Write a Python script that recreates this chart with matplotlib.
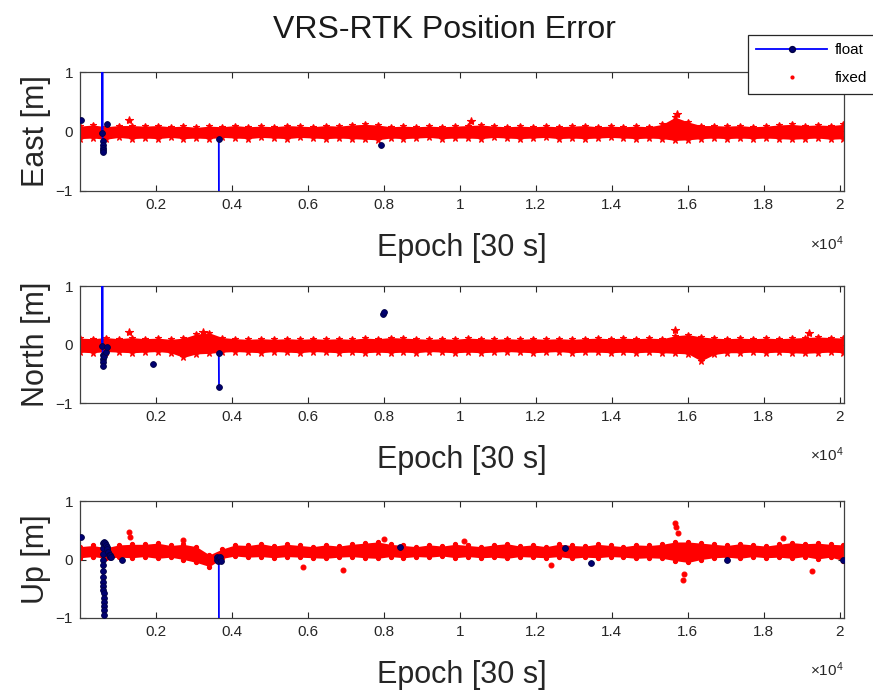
import numpy as np
import matplotlib
matplotlib.use('Agg')
import matplotlib.pyplot as plt
from matplotlib.lines import Line2D

plt.rcParams['font.family'] = ['Liberation Sans', 'DejaVu Sans']
plt.rcParams['mathtext.fontset'] = 'custom'
plt.rcParams['mathtext.rm'] = 'Liberation Sans'

last_epoch = 20100
nan = np.nan

# fixed solution: upper / lower edge of the red band, 60 bins over the whole record
east_hi = [0.09, 0.11, 0.08, 0.10, 0.10, 0.09, 0.10, 0.08, 0.09, 0.07,
           0.09, 0.08, 0.10, 0.08, 0.09, 0.08, 0.10, 0.09, 0.08, 0.10,
           0.09, 0.11, 0.12, 0.11, 0.08, 0.09, 0.08, 0.09, 0.08, 0.09,
           0.10, 0.11, 0.09, 0.08, 0.09, 0.08, 0.09, 0.08, 0.09, 0.10,
           0.08, 0.09, 0.08, 0.09, 0.08, 0.12, 0.24, 0.16, 0.10, 0.10,
           0.09, 0.10, 0.08, 0.09, 0.11, 0.12, 0.10, 0.11, 0.10, 0.12]
east_lo = [-0.12, -0.11, -0.13, -0.10, -0.12, -0.11, -0.12, -0.10, -0.12, -0.11,
           -0.12, -0.10, -0.11, -0.12, -0.10, -0.11, -0.12, -0.10, -0.11, -0.12,
           -0.11, -0.12, -0.13, -0.14, -0.11, -0.12, -0.11, -0.10, -0.12, -0.11,
           -0.11, -0.12, -0.10, -0.11, -0.12, -0.11, -0.10, -0.12, -0.11, -0.12,
           -0.11, -0.10, -0.11, -0.12, -0.11, -0.12, -0.15, -0.14, -0.12, -0.11,
           -0.12, -0.11, -0.12, -0.11, -0.12, -0.13, -0.12, -0.11, -0.13, -0.12]
east_spike_epoch = [1300, 10300, 15720]
east_spike_val = [0.20, 0.17, 0.30]

north_hi = [0.11, 0.10, 0.12, 0.10, 0.12, 0.10, 0.11, 0.09, 0.11, 0.18,
            0.20, 0.12, 0.10, 0.09, 0.10, 0.09, 0.10, 0.09, 0.10, 0.09,
            0.10, 0.09, 0.11, 0.10, 0.12, 0.11, 0.10, 0.09, 0.10, 0.09,
            0.11, 0.10, 0.09, 0.10, 0.09, 0.10, 0.09, 0.10, 0.09, 0.10,
            0.11, 0.10, 0.11, 0.10, 0.11, 0.10, 0.15, 0.17, 0.13, 0.11,
            0.10, 0.11, 0.10, 0.11, 0.10, 0.11, 0.12, 0.13, 0.12, 0.11]
north_lo = [-0.13, -0.14, -0.12, -0.13, -0.14, -0.13, -0.12, -0.14, -0.22, -0.16,
            -0.15, -0.13, -0.12, -0.13, -0.14, -0.12, -0.13, -0.14, -0.12, -0.13,
            -0.14, -0.13, -0.14, -0.13, -0.14, -0.13, -0.14, -0.12, -0.13, -0.14,
            -0.13, -0.14, -0.13, -0.12, -0.13, -0.14, -0.13, -0.12, -0.14, -0.13,
            -0.13, -0.14, -0.13, -0.14, -0.13, -0.14, -0.15, -0.16, -0.28, -0.17,
            -0.14, -0.14, -0.13, -0.14, -0.13, -0.14, -0.15, -0.14, -0.13, -0.14]
north_spike_epoch = [1300, 3250, 15660, 19200]
north_spike_val = [0.22, 0.22, 0.25, 0.20]

up_hi = [0.22, 0.24, 0.20, 0.25, 0.26, 0.26, 0.28, 0.24, 0.26, 0.22,
         0.08, 0.18, 0.25, 0.24, 0.27, 0.23, 0.26, 0.24, 0.22, 0.25,
         0.23, 0.26, 0.28, 0.30, 0.26, 0.24, 0.22, 0.25, 0.23, 0.26,
         0.24, 0.22, 0.25, 0.27, 0.23, 0.25, 0.22, 0.26, 0.24, 0.23,
         0.26, 0.24, 0.22, 0.25, 0.24, 0.26, 0.30, 0.30, 0.28, 0.26,
         0.24, 0.27, 0.25, 0.23, 0.26, 0.29, 0.27, 0.28, 0.26, 0.25]
up_lo = [0.03, 0.05, 0.02, 0.04, 0.03, 0.05, 0.02, 0.04, 0.00, -0.05,
         -0.12, 0.02, 0.06, 0.04, 0.05, 0.03, 0.05, 0.04, 0.03, 0.02,
         0.04, 0.05, 0.03, 0.02, 0.05, 0.03, 0.05, 0.04, 0.06, 0.03,
         0.05, 0.03, 0.04, 0.02, 0.05, 0.04, 0.03, 0.05, 0.02, 0.04,
         0.03, 0.05, 0.04, 0.02, 0.03, 0.02, -0.02, -0.05, 0.00, 0.03,
         0.04, 0.02, 0.05, 0.03, 0.04, 0.02, 0.05, 0.01, 0.04, -0.02]
up_spike_epoch = [1300, 1320, 2700, 5870, 6920, 8000, 10100, 12400,
                  15660, 15700, 15740, 15880, 15900, 18500, 19260]
up_spike_val = [0.47, 0.38, 0.33, -0.13, -0.18, 0.35, 0.32, -0.10,
                0.62, 0.55, 0.45, -0.35, -0.25, 0.37, -0.20]

# float solution (NaN separates float periods)
east_float_epoch = [20, nan, 585, 590, 596, 600, 604, 608, 612, nan, 710, nan, 3655, 3660, nan, 7920]
east_float_val = [0.19, nan, -0.03, 1.6, -0.16, -0.22, -0.27, -0.31, -0.35, nan, 0.12, nan, -0.13, -1.6, nan, -0.22]

north_float_epoch = [585, 590, 596, 600, 604, 608, 640, 680, 720, nan, 1920, nan, 3655, 3660, nan, 7990, 8000]
north_float_val = [-0.02, 1.6, -0.18, -0.24, -0.30, -0.36, -0.20, -0.12, -0.05, nan, -0.33, nan, -0.15, -0.72, nan, 0.53, 0.56]

up_float_epoch = [20, nan,
                  600, 602, 604, 606, 608, 610, 612, 614, 616, 618, 620, 622, 624, 626, 628, 630, 632, nan,
                  640, 660, 680, 700, 720, 740, 760, 780, 800, 830, nan, 1100, nan,
                  3600, 3620, 3640, 3655, 3660, nan, 3680, 3700, nan,
                  8420, nan, 12760, nan, 13450, nan, 17030, nan, 20100]
up_float_val = [0.38, nan,
                0.28, 0.2, 0.1, 0.0, -0.1, -0.2, -0.3, -0.38, -0.45, -0.52, -0.58, -0.65, -0.72, -0.8, -0.87, -0.95, -1.6, nan,
                0.3, 0.28, 0.25, 0.22, 0.18, 0.12, 0.08, 0.05, 0.07, 0.04, nan, 0.0, nan,
                0.05, 0.0, -0.03, 0.02, -1.6, nan, 0.04, -0.02, nan,
                0.22, nan, 0.2, nan, -0.06, nan, 0.0, nan, 0.0]

panels = [
    ('East [m]', east_hi, east_lo, east_spike_epoch, east_spike_val, east_float_epoch, east_float_val),
    ('North [m]', north_hi, north_lo, north_spike_epoch, north_spike_val, north_float_epoch, north_float_val),
    ('Up [m]', up_hi, up_lo, up_spike_epoch, up_spike_val, up_float_epoch, up_float_val),
]

fig = plt.figure(figsize=(8.73, 6.95), dpi=100)
boxes = [(0.0916, 0.7252, 0.875, 0.1712),
         (0.0916, 0.4201, 0.875, 0.1683),
         (0.0916, 0.1108, 0.875, 0.1683)]

tick_pos = np.arange(2000, 20001, 2000)
tick_lab = ['0.2', '0.4', '0.6', '0.8', '1', '1.2', '1.4', '1.6', '1.8', '2']

for k, (ylab, hi, lo, s_ep, s_val, f_ep, f_val) in enumerate(panels):
    ax = fig.add_axes(boxes[k])
    bx = np.linspace(0, last_epoch, len(hi))
    mk, ms = ('*', 5) if k < 2 else ('.', 6)
    ax.fill_between(bx, lo, hi, color='red', lw=0, zorder=2)
    ax.plot(bx, hi, ls='none', color='red', marker=mk, ms=ms, mew=0.8, zorder=2)
    ax.plot(bx, lo, ls='none', color='red', marker=mk, ms=ms, mew=0.8, zorder=2)
    ax.plot(s_ep, s_val, ls='none', color='red', marker=mk, ms=ms + 1, mew=0.8, zorder=2)
    ax.plot(f_ep, f_val, color='#0000ff', lw=1.3, marker='o', ms=4.2,
            mfc='#000070', mec='#000045', mew=0.6, zorder=3)

    ax.set_xlim(0, 20110)
    ax.set_ylim(-1, 1)
    ax.set_xticks(tick_pos)
    ax.set_xticklabels(tick_lab)
    ax.set_yticks([-1, 0, 1])
    ax.tick_params(direction='in', top=True, right=True, length=4, width=0.8,
                   labelsize=11, colors='#262626', pad=5)
    for sp in ax.spines.values():
        sp.set_color('#404040')
        sp.set_linewidth(0.9)
    ax.set_ylabel(ylab, fontsize=22, color='#262626')
    ax.yaxis.set_label_coords(-0.038, 0.5)
    ax.set_xlabel('Epoch [30 s]', fontsize=22, color='#262626', labelpad=15)
    ax.text(1.0, -0.445, r'$\mathregular{\times10^{4}}$', transform=ax.transAxes,
            ha='right', va='center', fontsize=11, color='#262626')

fig.text(444 / 873, 0.957, 'VRS-RTK Position Error', ha='center', va='center',
         fontsize=23, color='#1a1a1a')

h_float = Line2D([], [], color='#0000ff', lw=1.3, marker='o', ms=4.2, mfc='#000070', mec='#000045')
h_fixed = Line2D([], [], color='red', ls='none', marker='.', ms=4)
leg = fig.legend([h_float, h_fixed], ['float', 'fixed'], loc='upper left',
                 bbox_to_anchor=(748 / 873, 1 - 35 / 695), fontsize=11,
                 fancybox=False, edgecolor='#262626', framealpha=1,
                 handlelength=4.6, handletextpad=0.5, labelspacing=0.9,
                 borderpad=0.55, borderaxespad=0)
leg.get_frame().set_linewidth(0.9)

plt.savefig('out.png', dpi=100)
